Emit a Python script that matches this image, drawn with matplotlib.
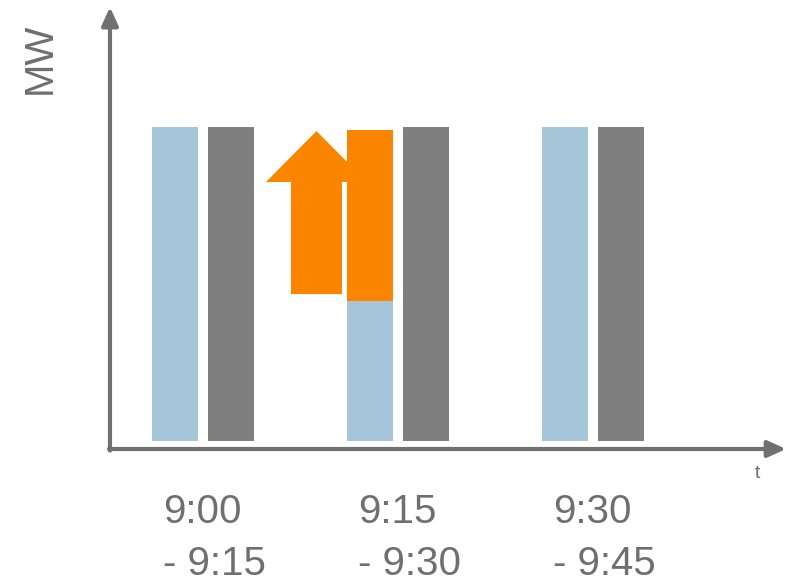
import matplotlib
matplotlib.use("Agg")
import matplotlib.pyplot as plt
from matplotlib.patches import FancyArrow
import numpy as np

# data (MW, normalised to the full bar height)
slots = ["9:00", "9:15", "9:30"]
slot_ends = ["- 9:15", "- 9:30", "- 9:45"]
blue_vals = [1.0, 0.446, 1.0]
orange_vals = [0.0, 0.544, 0.0]
grey_vals = [1.0, 1.0, 1.0]

BLUE = "#A5C5D9"
GREY = "#7F7F7F"
ORANGE = "#FC8500"
AXC = "#707070"
TXT = "#6F6F6F"

plt.rcParams["font.family"] = ["Liberation Sans", "DejaVu Sans"]

fig = plt.figure(figsize=(7.96, 5.80), dpi=100)
ax = fig.add_axes([0, 0, 1, 1])
ax.set_xlim(-1.041, 3.041)
ax.set_ylim(-0.4427, 1.4045)
ax.axis("off")

x = np.arange(len(slots))
w = 0.236
off = 0.1436

ax.bar(x - off, blue_vals, w, color=BLUE, zorder=3)
ax.bar(x - off, orange_vals, w, bottom=blue_vals, color=ORANGE, zorder=3)
ax.bar(x + off, grey_vals, w, color=GREY, zorder=3)

# orange "up" arrow next to the 9:15 slot
ax.add_patch(FancyArrow(x[1] - 0.418, 0.468, 0, 0.519, width=0.2615,
                        head_width=0.518, head_length=0.162,
                        length_includes_head=True, color=ORANGE, lw=0, zorder=2))

# axes with arrow heads
ax_x0, ax_y0 = -0.477, -0.0255
arr = dict(arrowstyle="-|>,head_length=1.1,head_width=0.5", color=AXC, lw=3,
           shrinkA=0, shrinkB=0, mutation_scale=10)
ax.annotate("", xy=(ax_x0, 1.382), xytext=(ax_x0, ax_y0 - 0.005), arrowprops=arr, zorder=4)
ax.annotate("", xy=(2.99, ax_y0), xytext=(ax_x0 - 0.005, ax_y0), arrowprops=arr, zorder=4)

ax.text(-0.836, 1.22, "MW", rotation=90, ha="center", va="center",
        fontsize=29, color=TXT)
ax.text(2.841, -0.118, "t", ha="center", va="baseline", fontsize=14, color=TXT)

for i in range(len(slots)):
    ax.text(x[i] - 0.205, -0.261, slots[i], ha="left", va="baseline",
            fontsize=29, color=TXT)
    ax.text(x[i] - 0.205, -0.427, slot_ends[i], ha="left", va="baseline",
            fontsize=29, color=TXT)

fig.savefig("out.png", dpi=100)
